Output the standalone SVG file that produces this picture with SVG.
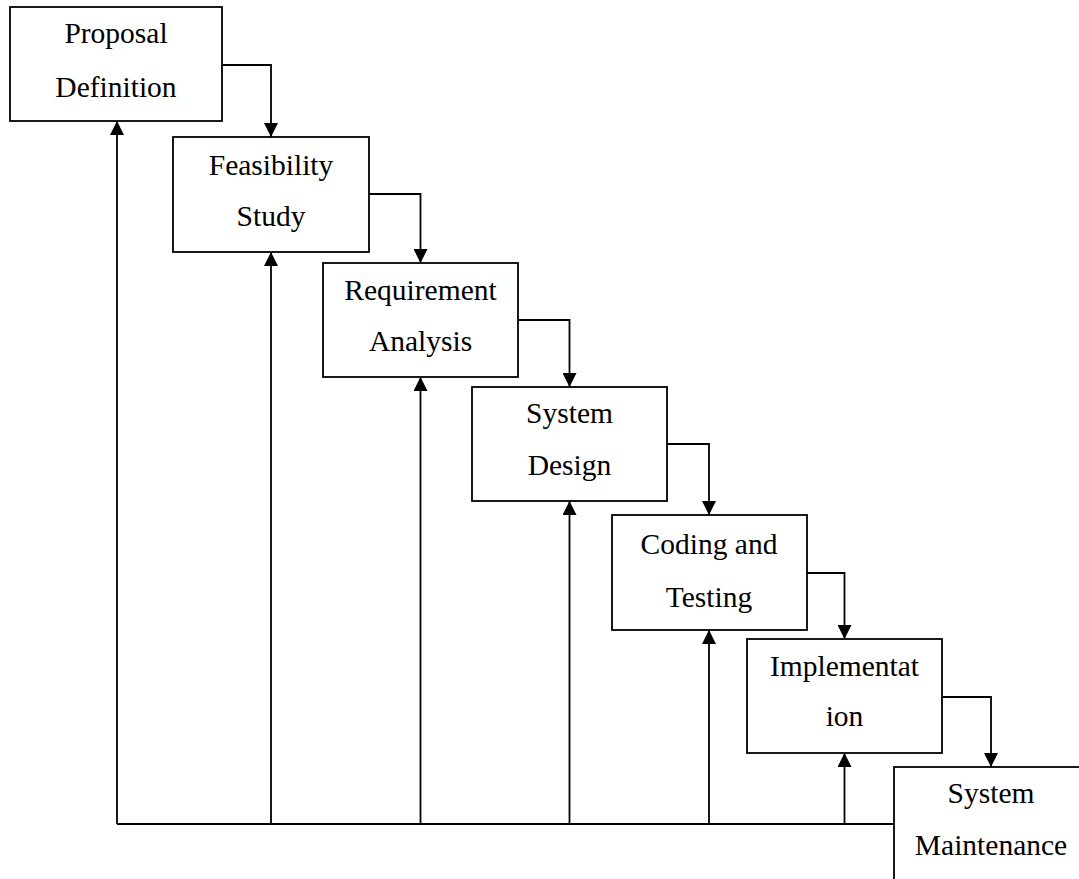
<svg xmlns="http://www.w3.org/2000/svg" width="1079" height="879" viewBox="0 0 1079 879">
  <style>
    .box { fill: #fff; stroke: #000; stroke-width: 1.8; }
    .lbl { font-family: "Liberation Serif", "Times New Roman", serif; font-size: 29.5px; fill: #000; text-anchor: middle; }
    .wire { fill: none; stroke: #000; stroke-width: 1.8; }
  </style>
  <defs>
    <marker id="arrow" viewBox="0 0 14 14" refX="14" refY="7" markerWidth="14" markerHeight="14" markerUnits="userSpaceOnUse" orient="auto">
      <path d="M0,0 L14,7 L0,14 Z" fill="#000"/>
    </marker>
  </defs>

  <rect width="1079" height="879" fill="#fff"/>

  <g id="connectors">
    <!-- forward flow: each stage feeds the next -->
    <path class="wire" marker-end="url(#arrow)" d="M222,65 H271 V137"/>
    <path class="wire" marker-end="url(#arrow)" d="M369,194 H420.5 V263"/>
    <path class="wire" marker-end="url(#arrow)" d="M518,320 H569.5 V387"/>
    <path class="wire" marker-end="url(#arrow)" d="M667,444 H709 V515"/>
    <path class="wire" marker-end="url(#arrow)" d="M807,573 H844.5 V639"/>
    <path class="wire" marker-end="url(#arrow)" d="M942,697 H991 V767"/>
    <!-- feedback bus from maintenance back to every stage -->
    <path class="wire" d="M894,824 H117"/>
    <path class="wire" marker-end="url(#arrow)" d="M117,824 V121"/>
    <path class="wire" marker-end="url(#arrow)" d="M271,824 V252"/>
    <path class="wire" marker-end="url(#arrow)" d="M420.5,824 V377"/>
    <path class="wire" marker-end="url(#arrow)" d="M569.5,824 V501"/>
    <path class="wire" marker-end="url(#arrow)" d="M709,824 V630"/>
    <path class="wire" marker-end="url(#arrow)" d="M844.5,824 V753"/>
  </g>

  <g id="proposal-definition">
    <rect class="box" x="10" y="7" width="212" height="114"/>
    <text class="lbl" x="116" y="43">Proposal</text>
    <text class="lbl" x="116" y="97">Definition</text>
  </g>

  <g id="feasibility-study">
    <rect class="box" x="173" y="137" width="196" height="115"/>
    <text class="lbl" x="271" y="175">Feasibility</text>
    <text class="lbl" x="271" y="226">Study</text>
  </g>

  <g id="requirement-analysis">
    <rect class="box" x="323" y="263" width="195" height="114"/>
    <text class="lbl" x="420.5" y="300">Requirement</text>
    <text class="lbl" x="420.5" y="351">Analysis</text>
  </g>

  <g id="system-design">
    <rect class="box" x="472" y="387" width="195" height="114"/>
    <text class="lbl" x="569.5" y="423">System</text>
    <text class="lbl" x="569.5" y="475">Design</text>
  </g>

  <g id="coding-testing">
    <rect class="box" x="612" y="515" width="195" height="115"/>
    <text class="lbl" x="709" y="554">Coding and</text>
    <text class="lbl" x="709" y="607">Testing</text>
  </g>

  <g id="implementation">
    <rect class="box" x="747" y="639" width="195" height="114"/>
    <text class="lbl" x="844.5" y="676">Implementat</text>
    <text class="lbl" x="844.5" y="726">ion</text>
  </g>

  <g id="system-maintenance">
    <rect class="box" x="894" y="767" width="194" height="130"/>
    <text class="lbl" x="991" y="803">System</text>
    <text class="lbl" x="991" y="855">Maintenance</text>
  </g>
</svg>
